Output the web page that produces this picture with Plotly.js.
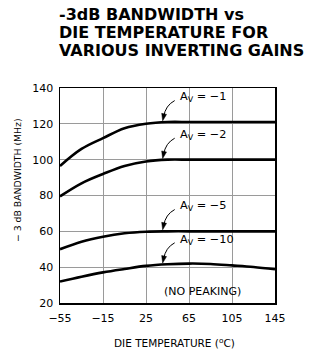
<!DOCTYPE html>
<html>
<head>
<meta charset="utf-8">
<script src="https://cdn.plot.ly/plotly-3.0.1.min.js"></script>
<style>html,body{margin:0;padding:0;background:#fff;}#chart{width:312px;height:354px;}</style>
</head>
<body>
<div id="chart"></div>
<script>
// Data
const temperatures = [-55, -35, -15, 5, 25, 45, 65, 85, 105, 125, 145];
const bwGainMinus1  = [96.5, 106, 112, 117.5, 120, 121, 121, 121, 121, 121, 121];
const bwGainMinus2  = [79.5, 86.8, 92, 96.5, 99, 100, 100, 100, 100, 100, 100];
const bwGainMinus5  = [50, 54.2, 57, 58.9, 59.8, 60, 60, 60, 60, 60, 60];
const bwGainMinus10 = [32, 34.7, 37.1, 39, 40.7, 41.6, 42, 41.8, 41, 40.1, 38.8];
const gainLabels = ['A<sub>V</sub> = \u22121', 'A<sub>V</sub> = \u22122', 'A<sub>V</sub> = \u22125', 'A<sub>V</sub> = \u221210'];
const titleLines = ['-3dB BANDWIDTH vs', 'DIE TEMPERATURE FOR', 'VARIOUS INVERTING GAINS'];
const xTicks = [-55, -15, 25, 65, 105, 145];
const yTicks = [20, 40, 60, 80, 100, 120, 140];

const seriesList = [bwGainMinus1, bwGainMinus2, bwGainMinus5, bwGainMinus10];
const FONT = 'DejaVu Sans, sans-serif';
const W = 312, H = 354;
const M = {l: 60, r: 37, t: 88, b: 51};
const PH = H - M.t - M.b, PW = W - M.l - M.r;

const traces = seriesList.map((ys, i) => ({
  x: temperatures, y: ys, type: 'scatter', mode: 'lines',
  line: {color: '#000', width: 2.6, shape: 'spline', smoothing: 1},
  hoverinfo: 'skip', showlegend: false, name: gainLabels[i]
}));

function interp(xs, ys, x) {
  for (let i = 0; i < xs.length - 1; i++) {
    if (x >= xs[i] && x <= xs[i + 1]) {
      const t = (x - xs[i]) / (xs[i + 1] - xs[i]);
      return ys[i] + t * (ys[i + 1] - ys[i]);
    }
  }
  return ys[ys.length - 1];
}

const annotations = [];
const shapes = [];
const arrowX = 40.5;
seriesList.forEach((ys, i) => {
  const yEnd = interp(temperatures, ys, arrowX);
  const tailX = arrowX + 11.2, tailY = yEnd + 12.2;
  const ctrlX = arrowX + 2.6, ctrlY = yEnd + 9.5;
  // curved leader
  shapes.push({
    type: 'path', xref: 'x', yref: 'y',
    path: `M ${tailX},${tailY} Q ${ctrlX},${ctrlY} ${arrowX + 0.9},${yEnd + 3.2}`,
    line: {color: '#000', width: 1}
  });
  // arrowhead (small filled triangle)
  const tipY = yEnd + 0.9;
  shapes.push({
    type: 'path', xref: 'x', yref: 'y',
    path: `M ${arrowX},${tipY} L ${arrowX + 3.6},${tipY + 3.6} L ${arrowX - 0.9},${tipY + 4.2} Z`,
    fillcolor: '#000', line: {color: '#000', width: 0.5}
  });
  annotations.push({
    x: arrowX + 14.3, y: yEnd + 14, xref: 'x', yref: 'y', text: gainLabels[i],
    showarrow: false, xanchor: 'left', yanchor: 'middle',
    font: {family: FONT, size: 11.3, color: '#000'}
  });
});
annotations.push({
  x: 78, y: 26.2, xref: 'x', yref: 'y', text: '(NO PEAKING)', showarrow: false,
  xanchor: 'center', yanchor: 'middle', font: {family: FONT, size: 11, color: '#000'}
});

// Title lines (pixel centres converted to paper coordinates)
const titleCentres = [14.5, 32.5, 50.5];
titleLines.forEach((t, i) => {
  annotations.push({
    xref: 'paper', yref: 'paper', x: (57 - M.l) / PW, y: (H - M.b - titleCentres[i]) / PH,
    xanchor: 'left', yanchor: 'middle', showarrow: false, text: '<b>' + t + '</b>',
    font: {family: 'DejaVu Sans, sans-serif', size: 16, color: '#000'}
  });
});
// Axis titles
annotations.push({
  xref: 'paper', yref: 'paper', x: (174.5 - M.l) / PW, y: (H - M.b - 342) / PH,
  xanchor: 'center', yanchor: 'middle', showarrow: false,
  text: 'DIE TEMPERATURE (<sup>o</sup>C)', font: {family: FONT, size: 10.5, color: '#000'}
});
annotations.push({
  xref: 'paper', yref: 'paper', x: (17 - M.l) / PW, y: (H - M.b - 180) / PH,
  xanchor: 'center', yanchor: 'middle', showarrow: false, textangle: -90,
  text: '\u2212 3 dB BANDWIDTH (MHz)', font: {family: FONT, size: 9.3, color: '#000'}
});

const layout = {
  width: W, height: H,
  margin: M,
  paper_bgcolor: '#fff', plot_bgcolor: '#fff',
  xaxis: {
    range: [-55, 145], tickvals: xTicks, ticktext: xTicks.map(v => v < 0 ? '\u2212' + Math.abs(v) : String(v)),
    showgrid: true, gridcolor: '#9a9a9a', gridwidth: 1,
    showline: true, linecolor: '#000', linewidth: 1.5, mirror: true,
    zeroline: false, ticks: 'outside', ticklen: 4, tickcolor: 'rgba(0,0,0,0)',
    tickfont: {family: FONT, size: 11, color: '#000'},
    fixedrange: true
  },
  yaxis: {
    range: [20, 140], tickvals: yTicks,
    showgrid: true, gridcolor: '#9a9a9a', gridwidth: 1,
    showline: true, linecolor: '#000', linewidth: 1.5, mirror: true,
    zeroline: false, ticks: 'outside', ticklen: 3, tickcolor: 'rgba(0,0,0,0)',
    tickfont: {family: FONT, size: 11, color: '#000'},
    fixedrange: true
  },
  annotations: annotations,
  shapes: shapes,
  showlegend: false
};

Plotly.newPlot('chart', traces, layout, {displayModeBar: false, staticPlot: true});
</script>
</body>
</html>
